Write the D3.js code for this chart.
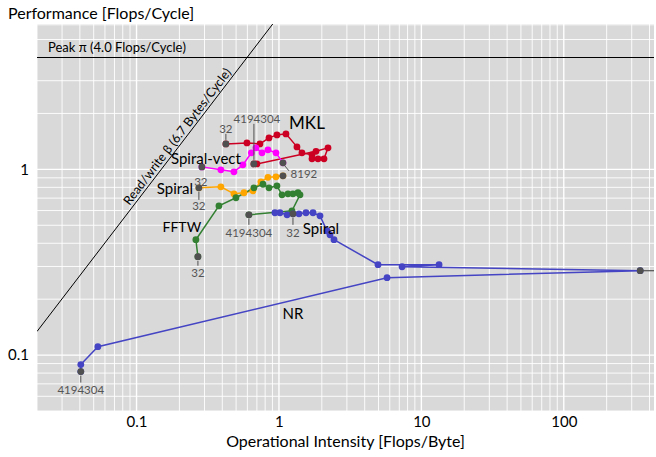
<!DOCTYPE html>
<html><head><meta charset="utf-8">
<script src="https://cdn.jsdelivr.net/npm/d3@7"></script>
<style>
body{margin:0;background:#fff}
svg{display:block}
text{font-family:Lato,"Open Sans",sans-serif}
</style>
</head><body>
<svg id="c" width="656" height="457"></svg>
<script>
// ---------- data ----------
const xTicks = [0.1, 1, 10, 100];
const xTickLabels = ["0.1", "1", "10", "100"];
const yTicks = [0.1, 1];
const yTickLabels = ["0.1", "1"];

const peakPi = 4.0;      // Flops/Cycle
const betaBW = 6.7;      // Bytes/Cycle

const mklX = [0.424,0.596,0.735,0.851,0.968,1.12,1.338,1.45,1.706,1.706,1.88,2.071,2.21,1.82,0.70,0.667];
const mklY = [1.371,1.388,1.371,1.477,1.533,1.552,1.321,1.227,1.197,1.139,1.139,1.139,1.305,1.25,1.07,1.07];

const vectX = [0.2876,0.391,0.483,0.558,0.64,0.689,0.76,0.837,0.953,1.067];
const vectY = [1.031,0.994,0.970,1.057,1.227,1.305,1.227,1.273,1.227,1.084];

const spiralX = [0.274,0.391,0.483,0.568,0.657,0.747,0.837,0.953,1.067];
const spiralY = [0.795,0.805,0.738,0.748,0.766,0.857,0.906,0.911,0.923];

const fftwX = [0.2697,0.261,0.379,0.499,0.667,0.772,0.851,0.968,1.05,1.157,1.254,1.36,1.405,1.234,0.615];
const fftwY = [0.3385,0.418,0.636,0.703,0.795,0.831,0.795,0.815,0.729,0.738,0.738,0.748,0.729,0.598,0.569];

const spiral2X = [0.937,1.016,1.14,1.254,1.382,1.548,1.734,1.942,2.175,2.283,2.435,4.96,13.31,7.32];
const spiral2Y = [0.584,0.584,0.569,0.576,0.576,0.584,0.584,0.562,0.467,0.444,0.418,0.3066,0.3066,0.299];

const nrX = [344,5.74,0.0535,0.0406,0.0406];
const nrY = [0.2846,0.261,0.111,0.0889,0.0815];

// ---------- layout ----------
const P = {l:37, r:654, t:24, b:411};
const svg = d3.select("#c");
const x = d3.scaleLog().domain([0.02, 430]).range([P.l, P.r]);
const y = d3.scaleLog().domain([0.05, 6.06]).range([P.b, P.t]);

svg.append("defs").append("clipPath").attr("id","clip")
  .append("rect").attr("x",P.l).attr("y",P.t).attr("width",P.r-P.l).attr("height",P.b-P.t);

svg.append("rect").attr("x",P.l).attr("y",P.t).attr("width",P.r-P.l).attr("height",P.b-P.t)
  .attr("fill","#d9d9d9");

// grid
function gridVals(dom){
  const v=[];
  for(let e=-3;e<=4;e++) for(let k=1;k<=9;k++){const val=k*Math.pow(10,e); if(val>=dom[0]&&val<=dom[1]) v.push({val,major:k===1});}
  return v;
}
const g = svg.append("g");
gridVals(x.domain()).forEach(d=>{
  g.append("line").attr("x1",x(d.val)).attr("x2",x(d.val)).attr("y1",P.t).attr("y2",P.b)
   .attr("stroke","#fff").attr("stroke-width",d.major?1.4:0.9);
});
gridVals(y.domain()).forEach(d=>{
  g.append("line").attr("y1",y(d.val)).attr("y2",y(d.val)).attr("x1",P.l).attr("x2",P.r)
   .attr("stroke","#fff").attr("stroke-width",d.major?1.4:0.9);
});

// axes (tick text)
const xa = d3.axisBottom(x).tickValues(xTicks).tickFormat((d,i)=>xTickLabels[i]).tickSize(0).tickPadding(5);
svg.append("g").attr("transform",`translate(0,${P.b})`).call(xa)
  .call(s=>s.select(".domain").remove())
  .selectAll("text").attr("font-size",15).attr("fill","#000").style("font-family","Lato");
const ya = d3.axisLeft(y).tickValues(yTicks).tickFormat((d,i)=>yTickLabels[i]).tickSize(0).tickPadding(8);
svg.append("g").attr("transform",`translate(${P.l},0)`).call(ya)
  .call(s=>s.select(".domain").remove())
  .selectAll("text").attr("font-size",15).attr("fill","#000").style("font-family","Lato");

svg.append("text").attr("x",8).attr("y",19).attr("font-size",16).text("Performance [Flops/Cycle]");
svg.append("text").attr("x",(P.l+P.r)/2).attr("y",447).attr("text-anchor","middle").attr("font-size",16)
  .text("Operational Intensity [Flops/Byte]");

const plot = svg.append("g").attr("clip-path","url(#clip)");

// roofs
plot.append("line").attr("x1",P.l).attr("x2",P.r).attr("y1",y(peakPi)).attr("y2",y(peakPi))
  .attr("stroke","#000").attr("stroke-width",1);
const bx0 = x.domain()[0], bx1 = y.domain()[1]/betaBW;
plot.append("line").attr("x1",x(bx0)).attr("y1",y(bx0*betaBW)).attr("x2",x(bx1)).attr("y2",y(bx1*betaBW))
  .attr("stroke","#000").attr("stroke-width",1);
svg.append("text").attr("x",48).attr("y",y(peakPi)-6).attr("font-size",13).text("Peak \u03c0 (4.0 Flops/Cycle)");
{
  const lx = 0.212, px = x(lx), py = y(lx*betaBW);
  const ang = Math.atan2(y(10)-y(1), x(10/betaBW)-x(1/betaBW))*180/Math.PI;
  svg.append("text").attr("transform",`translate(${px},${py}) rotate(${ang})`)
    .attr("text-anchor","middle").attr("dy",-3).attr("font-size",12.5).text("Read/write \u03b2 (6.7 Bytes/Cycle)");
}

// series
const series = [
  {name:"mkl", xs:mklX, ys:mklY, color:"#cc0022"},
  {name:"vect", xs:vectX, ys:vectY, color:"#ff00ff"},
  {name:"spiral", xs:spiralX, ys:spiralY, color:"#ffa500"},
  {name:"fftw", xs:fftwX, ys:fftwY, color:"#338033"},
  {name:"spiral2", xs:spiral2X, ys:spiral2Y, color:"#4444c4"},
  {name:"nr", xs:nrX, ys:nrY, color:"#4444c4"}
];
const line = d3.line().x(d=>x(d[0])).y(d=>y(d[1]));
series.forEach(s=>{ s.pts = s.xs.map((v,i)=>[v,s.ys[i]]); });
const blueJoin = series[4].pts.concat(series[5].pts);
[series[0],series[1],series[2],series[3]].forEach(s=>{
  plot.append("path").attr("d",line(s.pts)).attr("fill","none").attr("stroke",s.color).attr("stroke-width",1.5);
});
plot.append("path").attr("d",line(blueJoin)).attr("fill","none").attr("stroke",series[4].color).attr("stroke-width",1.5);
series.forEach(s=>{
  plot.selectAll(null).data(s.pts).enter().append("circle")
    .attr("cx",d=>x(d[0])).attr("cy",d=>y(d[1])).attr("r",3.4).attr("fill",s.color);
});

// size annotations
const ann = [
  {s:"mkl", i:0, t:"32", dx:0, dy:-15, l0:-4, l1:-10},
  {s:"mkl", i:-1, t:"4194304", dx:3, dy:-45, l0:-4, l1:-40},
  {s:"vect", i:0, t:"32", dx:-1, dy:15, l0:0, l1:0},
  {s:"vect", i:-1, t:"8192", dx:21, dy:11, diag:true},
  {s:"spiral", i:0, t:"32", dx:0, dy:18, l0:4, l1:12},
  {s:"spiral", i:-1, t:"", dx:0, dy:0, l0:0, l1:0},
  {s:"fftw", i:0, t:"32", dx:0, dy:16, l0:4, l1:9},
  {s:"fftw", i:-1, t:"4194304", dx:0, dy:18, l0:4, l1:10},
  {s:"spiral2", i:3, t:"32", dx:0, dy:19, l0:4, l1:11},
  {s:"nr", i:-1, t:"4194304", dx:0, dy:18, l0:4, l1:11},
  {s:"nr", i:0, t:"", right:true}
];
const gray = "#505050";
ann.forEach(a=>{
  const s = series.find(d=>d.name===a.s);
  const p = s.pts[a.i<0 ? s.pts.length+a.i : a.i];
  const px = x(p[0]), py = y(p[1]);
  if(a.right){
    plot.append("line").attr("x1",px).attr("x2",px+20).attr("y1",py).attr("y2",py).attr("stroke",gray).attr("stroke-width",1.2);
  } else if(a.diag){
    svg.append("line").attr("x1",px+1).attr("y1",py+2).attr("x2",px+6).attr("y2",py+8).attr("stroke",gray).attr("stroke-width",1);
  } else if(a.l1!==a.l0){
    svg.append("line").attr("x1",px).attr("x2",px).attr("y1",py+a.l0).attr("y2",py+a.l1).attr("stroke",gray).attr("stroke-width",1);
  }
  plot.append("circle").attr("cx",px).attr("cy",py).attr("r",3.4).attr("fill",gray);
  if(a.t) svg.append("text").attr("x",px+a.dx).attr("y",py+a.dy).attr("text-anchor","middle")
    .attr("dominant-baseline","central").attr("font-size",11.5).attr("fill","#555").text(a.t);
});

// series labels (data coords)
const labels = [
  {t:"MKL", x:1.573, y:1.778, fs:17},
  {t:"Spiral-vect", x:0.307, y:1.153, fs:15},
  {t:"Spiral", x:0.186, y:0.795, fs:15},
  {t:"FFTW", x:0.208, y:0.491, fs:14},
  {t:"Spiral", x:1.973, y:0.485, fs:15},
  {t:"NR", x:1.254, y:0.1692, fs:15}
];
labels.forEach(l=>{
  svg.append("text").attr("x",x(l.x)).attr("y",y(l.y)).attr("text-anchor","middle")
    .attr("dominant-baseline","central").attr("font-size",l.fs).attr("fill","#000").text(l.t);
});
</script>
</body></html>
